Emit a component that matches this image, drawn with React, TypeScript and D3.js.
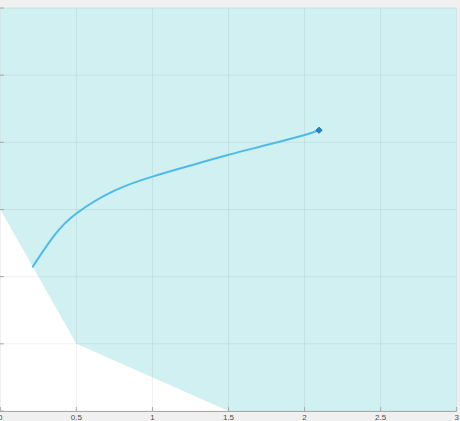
import React from "react";
import * as d3 from "d3";

const xTicks = [0, 0.5, 1, 1.5, 2, 2.5, 3];
const xTickLabels = ["0", "0.5", "1", "1.5", "2", "2.5", "3"];
const yTicks = [0, 1, 2, 3, 4, 5, 6];

// feasible-region boundary (shaded area lies above/right of it)
const regionX = [0, 0.5, 1.5, 3, 3, 0];
const regionY = [3, 1, 0, 0, 6, 6];

// trajectory
const curveX = [0.213, 0.35, 0.5, 0.75, 1.0, 1.25, 1.5, 1.75, 2.0, 2.095];
const curveY = [2.148, 2.6, 2.94, 3.28, 3.49, 3.655, 3.815, 3.96, 4.11, 4.18];

const W = 460;
const H = 421;
const left = 0.3;
const right = 456.7;
const top = 8;
const bottom = 411;

export default function App() {
  const x = d3.scaleLinear().domain([0, 3]).range([left, right]);
  const y = d3.scaleLinear().domain([0, 6]).range([bottom, top]);

  const regionPts: [number, number][] = regionX.map((v, i) => [x(v), y(regionY[i])]);
  const regionPath = "M" + regionPts.map((p) => p.join(",")).join("L") + "Z";

  const line = d3
    .line<number>()
    .x((_, i) => x(curveX[i]))
    .y((d) => y(d))
    .curve(d3.curveNatural);
  const curvePath = line(curveY) || "";

  const ex = x(curveX[curveX.length - 1]);
  const ey = y(curveY[curveY.length - 1]);

  return (
    <div style={{ position: "absolute", left: 0, top: 0 }}>
      <svg width={W} height={H} style={{ display: "block" }}>
        <rect x={0} y={0} width={W} height={H} fill="#f0f0f0" />
        <rect x={left} y={top} width={right - left} height={bottom - top} fill="#ffffff" />
        <path d={regionPath} fill="#d1f0f1" />
        {xTicks.map((t) => (
          <line key={"vx" + t} x1={x(t)} x2={x(t)} y1={top} y2={bottom} stroke="#000" strokeOpacity={0.06} strokeWidth={1} />
        ))}
        {yTicks.map((t) => (
          <line key={"hy" + t} x1={left} x2={right} y1={y(t)} y2={y(t)} stroke="#000" strokeOpacity={0.06} strokeWidth={1} />
        ))}
        <line x1={0} x2={right} y1={bottom + 0.5} y2={bottom + 0.5} stroke="#a8a8a8" strokeWidth={1} />
        {xTicks.map((t) => (
          <line key={"tx" + t} x1={x(t)} x2={x(t)} y1={bottom} y2={bottom - 4} stroke="#a8a8a8" strokeWidth={1} />
        ))}
        {yTicks.map((t) => (
          <line key={"ty" + t} x1={0} x2={4} y1={y(t)} y2={y(t)} stroke="#a8a8a8" strokeWidth={1} />
        ))}
        {xTicks.map((t, i) => (
          <text
            key={"lx" + t}
            x={x(t)}
            y={420}
            textAnchor="middle"
            fontFamily="Helvetica, Arial, sans-serif"
            fontSize={8}
            fill="#4d4d4d"
          >
            {xTickLabels[i]}
          </text>
        ))}
        <path d={curvePath} fill="none" stroke="#4dbbe9" strokeWidth={2} strokeLinecap="round" />
        <rect
          x={ex - 2.2}
          y={ey - 2.2}
          width={4.4}
          height={4.4}
          transform={`rotate(45 ${ex} ${ey})`}
          fill="#2b84c6"
          stroke="#1b64a8"
          strokeWidth={0.8}
        />
      </svg>
    </div>
  );
}
